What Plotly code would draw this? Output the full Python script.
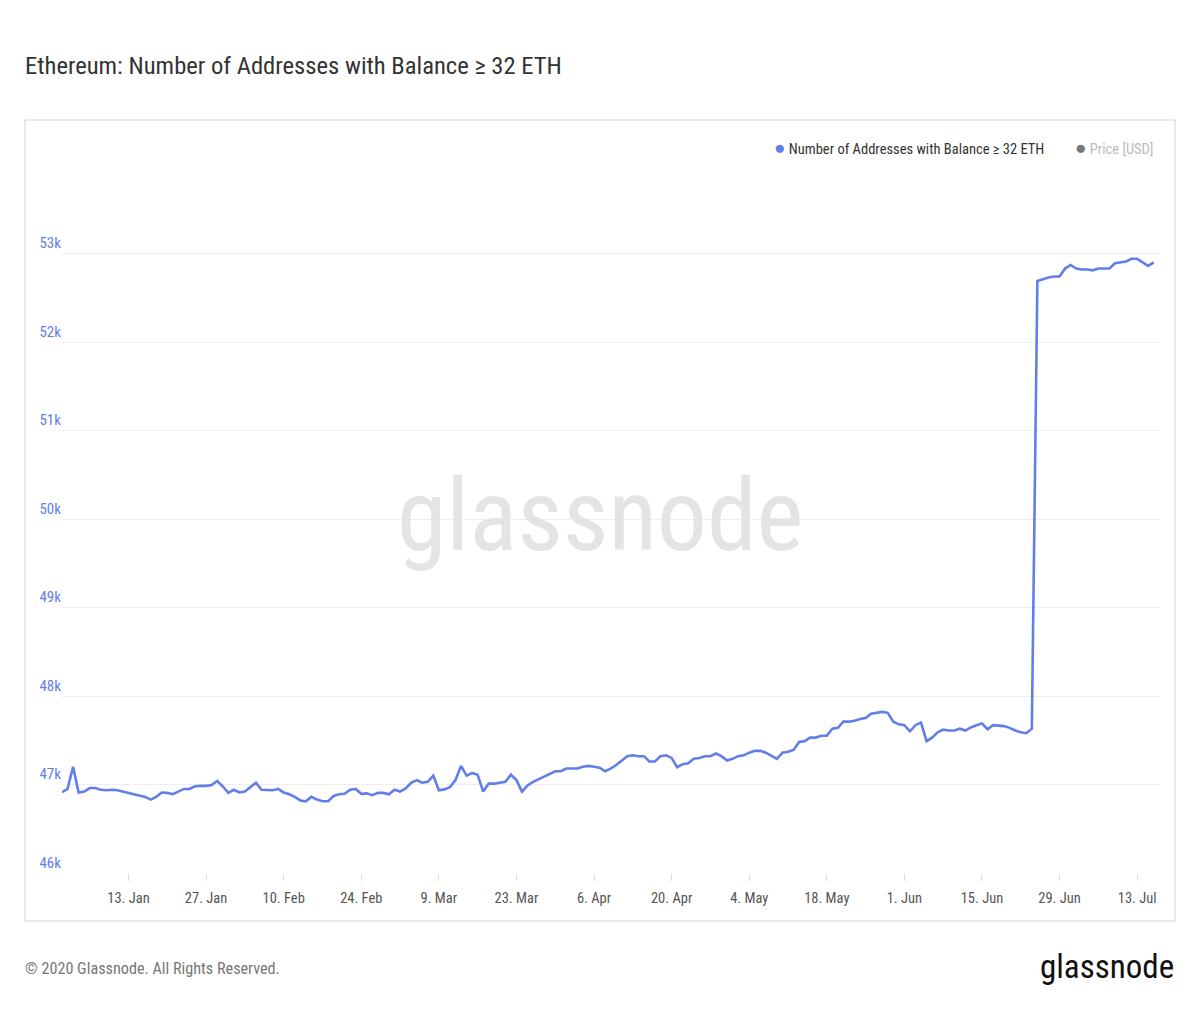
import pandas as pd
import plotly.graph_objects as go

start_date = "2020-01-01"
addresses = [
    46913, 46950, 47200, 46910, 46920, 46960, 46960, 46940, 46935, 46940,
    46935, 46920, 46900, 46890, 46875, 46860, 46830, 46860, 46910, 46905,
    46890, 46920, 46950, 46950, 46980, 46985, 46985, 46995, 47040, 46980,
    46905, 46940, 46910, 46920, 46970, 47020, 46940, 46935, 46935, 46950,
    46910, 46890, 46860, 46820, 46810, 46860, 46830, 46810, 46810, 46870,
    46890, 46895, 46940, 46950, 46895, 46900, 46880, 46905, 46905, 46890,
    46940, 46920, 46955, 47020, 47050, 47020, 47030, 47100, 46935, 46945,
    46970, 47050, 47210, 47100, 47130, 47110, 46920, 47010, 47010, 47020,
    47030, 47110, 47050, 46920, 46990, 47030, 47060, 47090, 47120, 47150,
    47150, 47180, 47180, 47180, 47200, 47210, 47200, 47190, 47150, 47180,
    47220, 47270, 47320, 47330, 47320, 47320, 47260, 47260, 47320, 47330,
    47300, 47195, 47230, 47240, 47290, 47300, 47320, 47320, 47350, 47320,
    47270, 47290, 47320, 47330, 47360, 47380, 47380, 47360, 47320, 47290,
    47360, 47370, 47390, 47480, 47490, 47530, 47530, 47550, 47550, 47630,
    47640, 47710, 47710, 47720, 47740, 47750, 47800, 47810, 47820, 47810,
    47710, 47680, 47670, 47600, 47670, 47700, 47490, 47530, 47590, 47620,
    47610, 47610, 47630, 47610, 47645, 47670, 47690, 47625, 47670, 47665,
    47660, 47640, 47610, 47590, 47580, 47630, 52690, 52710, 52730, 52740,
    52740, 52830, 52870, 52830, 52820, 52820, 52810, 52830, 52830, 52830,
    52890, 52900, 52910, 52940, 52940, 52900, 52860, 52900,
]
dates = pd.date_range(start_date, periods=len(addresses), freq="D")

x_tick_dates = ["2020-01-13", "2020-01-27", "2020-02-10", "2020-02-24", "2020-03-09",
                "2020-03-23", "2020-04-06", "2020-04-20", "2020-05-04", "2020-05-18",
                "2020-06-01", "2020-06-15", "2020-06-29", "2020-07-13"]
x_tick_labels = ["13. Jan", "27. Jan", "10. Feb", "24. Feb", "9. Mar", "23. Mar", "6. Apr",
                 "20. Apr", "4. May", "18. May", "1. Jun", "15. Jun", "29. Jun", "13. Jul"]
y_tick_vals = [46000, 47000, 48000, 49000, 50000, 51000, 52000, 53000, 54000]
y_tick_labels = ["46k", "47k", "48k", "49k", "50k", "51k", "52k", "53k", ""]

ETH = "#627EEA"
FONT = "Liberation Sans Narrow, Roboto Condensed, Roboto, sans-serif"

W, H = 1200, 1013
L, R, T, B = 62, 40, 165, 140
pw, ph = W - L - R, H - T - B

def px(x):
    return (x - L) / pw

def py(y):
    return (H - B - y) / ph

fig = go.Figure()
fig.add_trace(go.Scatter(
    x=dates, y=addresses, mode="lines",
    line=dict(color=ETH, width=2.6),
    name="Number of Addresses with Balance ≥ 32 ETH",
    showlegend=False,
))

fig.update_layout(
    width=W, height=H,
    margin=dict(l=L, r=R, t=T, b=B),
    paper_bgcolor="white", plot_bgcolor="white",
    font=dict(family=FONT),
    xaxis=dict(
        range=["2020-01-01 00:00", "2020-07-17 03:00"],
        tickvals=x_tick_dates, ticktext=x_tick_labels,
        ticks="outside", ticklen=7, tickcolor="#dddddd",
        ticklabelstandoff=5,
        showgrid=False, zeroline=False, showline=False,
        tickfont=dict(size=14.5, color="#555555", family=FONT),
    ),
    yaxis=dict(
        range=[46000, 54000],
        tickvals=y_tick_vals, ticktext=y_tick_labels,
        ticklabelposition="outside top",
        showgrid=True, gridcolor="#eeeeee", gridwidth=1,
        zeroline=False, showline=False, ticks="",
        tickfont=dict(size=15, color=ETH, family=FONT),
    ),
)

# chart frame
fig.add_shape(type="rect", xref="paper", yref="paper",
              x0=px(25), x1=px(1175), y0=py(921), y1=py(120),
              line=dict(color="#e3e3e3", width=1.5), layer="below")

# title
fig.add_annotation(xref="paper", yref="paper", x=px(23), y=py(65),
                   xanchor="left", yanchor="middle", showarrow=False,
                   text="Ethereum: Number of Addresses with Balance ≥ 32 ETH",
                   font=dict(size=24.6, color="#333333", family=FONT))

# legend
fig.add_annotation(xref="paper", yref="paper", x=px(1046), y=py(147),
                   xanchor="right", yanchor="middle", showarrow=False,
                   text=f"<span style='color:{ETH};font-size:19px'>●</span> Number of Addresses with Balance ≥ 32 ETH",
                   font=dict(size=14.5, color="#333333", family=FONT))
fig.add_annotation(xref="paper", yref="paper", x=px(1156), y=py(147),
                   xanchor="right", yanchor="middle", showarrow=False,
                   text="<span style='color:#777777;font-size:19px'>●</span> Price [USD]",
                   font=dict(size=14.5, color="#bbbbbb", family=FONT))

# watermark
fig.add_annotation(xref="paper", yref="paper", x=px(600), y=py(515),
                   xanchor="center", yanchor="middle", showarrow=False,
                   text="glassnode",
                   font=dict(size=100, color="#e4e4e4", family=FONT))

# footer
fig.add_annotation(xref="paper", yref="paper", x=px(23), y=py(968),
                   xanchor="left", yanchor="middle", showarrow=False,
                   text="© 2020 Glassnode. All Rights Reserved.",
                   font=dict(size=16.2, color="#777777", family=FONT))
fig.add_annotation(xref="paper", yref="paper", x=px(1176), y=py(966),
                   xanchor="right", yanchor="middle", showarrow=False,
                   text="glassnode",
                   font=dict(size=33, color="#111111", family=FONT))

fig.write_html("out.html")
